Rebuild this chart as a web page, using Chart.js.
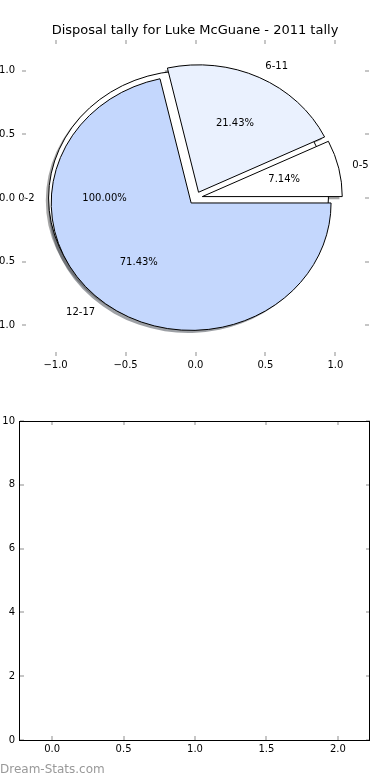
<!DOCTYPE html>
<html>
<head>
<meta charset="utf-8">
<script src="https://cdn.jsdelivr.net/npm/chart.js@4"></script>
<style>
  body { margin: 0; background: #fff; }
  canvas { display: block; }
</style>
</head>
<body>
<canvas id="pieChart" width="390" height="390"></canvas>
<canvas id="emptyChart" width="390" height="390"></canvas>
<script>
// full-circle pie that sits underneath
var outerLabels = ["0-2"];
var outerValues = [1];
var outerColors = ["#ffffff"];
var outerExplode = [0.05];

// the tally pie drawn on top
var sliceLabels = ["0-5", "6-11", "12-17"];
var sliceValues = [1, 3, 10];
var sliceColors = ["#ffffff", "#eaf1fe", "#c4d7fd"];
var sliceExplode = [0.05, 0.05, 0.05];

var pieTicks = [-1, -0.5, 0, 0.5, 1];
var emptyXTicks = [0, 0.5, 1, 1.5, 2];
var emptyYTicks = [0, 2, 4, 6, 8, 10];

var titleText = "Disposal tally for Luke McGuane - 2011 tally";
var font = "DejaVu Sans";

function fmt1(v) {
  return (v < 0 ? "\u2212" : "") + Math.abs(v).toFixed(1);
}

function shadowColor(hex) {
  var r = parseInt(hex.substr(1, 2), 16), g = parseInt(hex.substr(3, 2), 16), b = parseInt(hex.substr(5, 2), 16);
  return "rgba(" + Math.round(r * 0.3) + "," + Math.round(g * 0.3) + "," + Math.round(b * 0.3) + ",0.5)";
}

function makeWedges(labels, values, colors, explode) {
  var total = values.reduce(function (a, b) { return a + b; }, 0);
  var t = 0, out = [];
  values.forEach(function (v, i) {
    var t1 = t, t2 = t + v / total * 2 * Math.PI;
    t = t2;
    var mid = (t1 + t2) / 2;
    out.push({
      t1: t1, t2: t2, mid: mid, frac: v / total, label: labels[i], color: colors[i],
      cx: explode[i] * Math.cos(mid), cy: explode[i] * Math.sin(mid)
    });
  });
  return out;
}

var pieLayers = [
  makeWedges(outerLabels, outerValues, outerColors, outerExplode),
  makeWedges(sliceLabels, sliceValues, sliceColors, sliceExplode)
];

function wedgePath(ctx, xs, ys, w, dx, dy) {
  var px = xs.getPixelForValue(w.cx + dx), py = ys.getPixelForValue(w.cy + dy);
  var rx = xs.getPixelForValue(1) - xs.getPixelForValue(0);
  var ry = ys.getPixelForValue(0) - ys.getPixelForValue(1);
  ctx.beginPath();
  if (w.frac >= 1) {
    ctx.ellipse(px, py, rx, ry, 0, 0, 2 * Math.PI);
  } else {
    ctx.moveTo(px, py);
    ctx.ellipse(px, py, rx, ry, 0, -w.t1, -w.t2, true);
    ctx.closePath();
  }
}

// inward tick marks on all four sides, like the old matplotlib look
function drawTickMarks(chart) {
  var ctx = chart.ctx, a = chart.chartArea, xs = chart.scales.x, ys = chart.scales.y, len = 4;
  ctx.save();
  ctx.strokeStyle = "#b4b4b4";
  ctx.lineWidth = 1.5;
  xs.ticks.forEach(function (t) {
    var px = Math.round(xs.getPixelForValue(t.value));
    ctx.beginPath();
    ctx.moveTo(px, a.top); ctx.lineTo(px, a.top + len);
    ctx.moveTo(px, a.bottom); ctx.lineTo(px, a.bottom - len);
    ctx.stroke();
  });
  ys.ticks.forEach(function (t) {
    var py = Math.round(ys.getPixelForValue(t.value));
    ctx.beginPath();
    ctx.moveTo(a.left, py); ctx.lineTo(a.left + len, py);
    ctx.moveTo(a.right, py); ctx.lineTo(a.right - len, py);
    ctx.stroke();
  });
  ctx.restore();
}

var piePlugin = {
  id: "pieDraw",
  afterDraw: function (chart) {
    var ctx = chart.ctx, xs = chart.scales.x, ys = chart.scales.y;
    ctx.save();
    // shadows first, they go under every wedge
    pieLayers.forEach(function (layer) {
      layer.forEach(function (w) {
        wedgePath(ctx, xs, ys, w, -0.02, -0.02);
        ctx.fillStyle = shadowColor(w.color);
        ctx.fill();
      });
    });
    pieLayers.forEach(function (layer) {
      layer.forEach(function (w) {
        wedgePath(ctx, xs, ys, w, 0, 0);
        ctx.fillStyle = w.color;
        ctx.fill();
        ctx.strokeStyle = "#000";
        ctx.lineWidth = 1;
        ctx.stroke();
      });
    });
    ctx.font = "10px '" + font + "'";
    ctx.fillStyle = "#000";
    ctx.textBaseline = "middle";
    pieLayers.forEach(function (layer) {
      layer.forEach(function (w) {
        var c = Math.cos(w.mid), s = Math.sin(w.mid);
        var lx = w.cx + 1.1 * c, ly = w.cy + 1.1 * s;
        ctx.textAlign = lx < 0 ? "right" : "left";
        ctx.fillText(w.label, xs.getPixelForValue(lx), ys.getPixelForValue(ly));
        ctx.textAlign = "center";
        ctx.fillText((w.frac * 100).toFixed(2) + "%", xs.getPixelForValue(w.cx + 0.6 * c), ys.getPixelForValue(w.cy + 0.6 * s));
      });
    });
    ctx.restore();
    drawTickMarks(chart);
  }
};

var framePlugin = {
  id: "frameDraw",
  afterDraw: function (chart) {
    var ctx = chart.ctx, a = chart.chartArea;
    drawTickMarks(chart);
    ctx.save();
    ctx.strokeStyle = "#000";
    ctx.lineWidth = 1;
    ctx.strokeRect(Math.round(a.left) - 0.5, Math.round(a.top) + 0.5, Math.round(a.right - a.left), Math.round(a.bottom - a.top));
    ctx.font = "12px '" + font + "'";
    ctx.fillStyle = "#999";
    ctx.textAlign = "left";
    ctx.textBaseline = "middle";
    ctx.fillText("Dream-Stats.com", 0, 380);
    ctx.restore();
  }
};

function axis(min, max, tickList, fmt, size, pad, horizontal) {
  return {
    type: "linear",
    min: min,
    max: max,
    grid: { display: false, drawTicks: false },
    border: { display: false },
    afterBuildTicks: function (s) { s.ticks = tickList.map(function (v) { return { value: v }; }); },
    afterFit: function (s) { if (horizontal) { s.height = size; } else { s.width = size; } },
    ticks: {
      padding: pad,
      color: "#000",
      autoSkip: false,
      maxRotation: 0,
      font: { family: font, size: 10 },
      callback: function (v) { return fmt(v); }
    }
  };
}

// blank right-hand axis, only there to keep the plot box centred under the title
var spacer = {
  type: "linear",
  position: "right",
  grid: { display: false, drawTicks: false },
  border: { display: false },
  ticks: { display: false },
  afterFit: function (s) { s.width = 21; }
};

new Chart("pieChart", {
  type: "scatter",
  data: { datasets: [] },
  options: {
    responsive: false,
    animation: false,
    layout: { padding: 0 },
    plugins: {
      legend: { display: false },
      tooltip: { enabled: false },
      title: {
        display: true,
        text: titleText,
        color: "#000",
        font: { family: font, size: 13, weight: "normal" },
        padding: { top: 23, bottom: 1.4 }
      }
    },
    scales: {
      x: axis(-1.24, 1.24, pieTicks, fmt1, 34, 3, true),
      y: axis(-1.24, 1.24, pieTicks, fmt1, 22, 7, false),
      y2: spacer
    }
  },
  plugins: [piePlugin]
});

new Chart("emptyChart", {
  type: "scatter",
  data: { datasets: [] },
  options: {
    responsive: false,
    animation: false,
    layout: { padding: { top: 31, right: 20, left: 0, bottom: 0 } },
    plugins: { legend: { display: false }, tooltip: { enabled: false } },
    scales: {
      x: axis(-0.225, 2.225, emptyXTicks, fmt1, 40, 3, true),
      y: axis(0, 10, emptyYTicks, function (v) { return String(v); }, 20, 5, false)
    }
  },
  plugins: [framePlugin]
});
</script>
</body>
</html>
